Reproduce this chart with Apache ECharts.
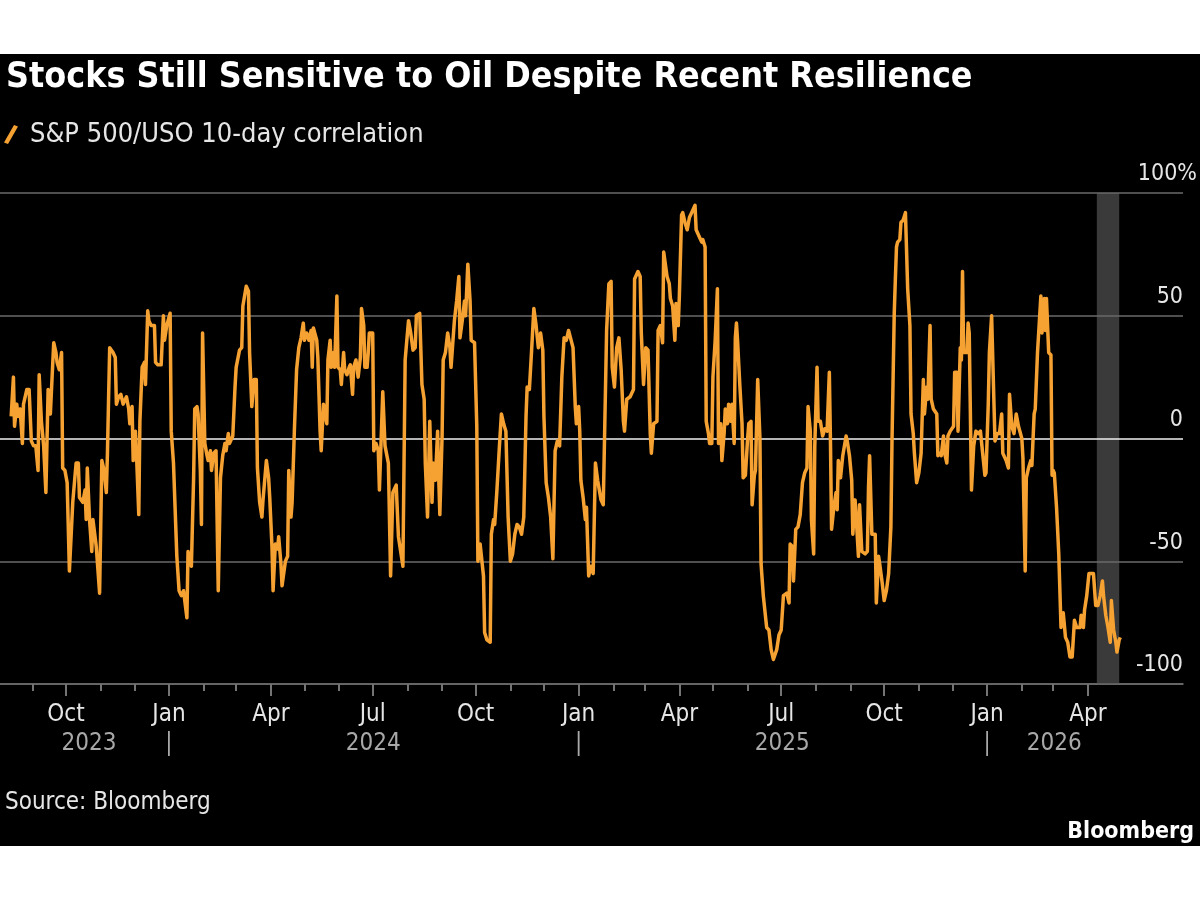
<!DOCTYPE html>
<html>
<head>
<meta charset="utf-8">
<script src="https://cdn.jsdelivr.net/npm/echarts@6/dist/echarts.min.js"></script>
<style>
  html, body { margin: 0; padding: 0; background: #fff; }
  #bg { position: absolute; left: 0; top: 54px; width: 1200px; height: 792px; background: #000; }
  #chart { position: absolute; left: 0; top: 0; width: 1200px; height: 900px; }
</style>
</head>
<body>
<div id="bg"></div>
<div id="chart"></div>
<script>
// ---- Data ----
// Dates are given as days since 2023-08-01.
const daysSinceStart = [
  12,14,15,17,18,20,22,23,26,28,30,32,34,36,37,39,41,43,45,47,48,50,52,53,55,57,58,60,62,64,65,67,70,72,73,76,78,79,80,82,84,85,88,91,93,95,97,98,99,100,
  103,105,106,108,110,112,115,117,118,120,121,123,124,126,127,129,131,132,134,135,137,140,141,143,146,148,149,151,154,155,157,160,162,164,166,169,170,172,173,175,176,178,179,181,182,183,185,187,188,190,
  191,193,195,197,199,201,203,204,206,207,210,212,213,216,218,219,222,224,225,227,229,231,232,234,236,237,240,242,243,245,246,248,250,251,253,254,257,259,260,262,263,265,267,269,271,273,274,276,278,280,
  281,282,285,286,288,289,291,292,294,295,297,298,300,301,303,304,306,307,309,310,312,314,315,317,318,320,322,324,325,327,328,330,331,332,335,336,338,340,341,344,346,349,351,353,356,358,360,362,364,367,
  369,371,373,374,377,379,381,382,384,386,388,389,391,393,394,395,397,398,400,402,404,405,408,410,412,413,415,417,418,420,422,423,426,428,429,431,434,435,437,440,441,443,444,446,448,450,452,454,456,458,
  460,462,464,466,468,470,472,473,475,477,479,481,483,485,487,488,490,492,494,496,498,500,502,504,506,508,510,514,516,517,519,520,521,523,525,526,528,530,532,534,536,539,541,542,544,546,548,549,551,553,
  555,557,559,560,562,565,568,569,572,574,575,577,579,581,583,584,586,589,590,592,594,595,598,600,601,603,605,606,608,609,611,612,614,616,618,621,623,624,627,629,630,632,633,635,636,638,639,641,643,644,
  646,647,649,650,652,653,655,656,658,659,660,661,663,665,666,668,670,671,673,674,676,677,679,681,682,684,687,689,691,693,696,698,700,702,705,707,708,710,711,713,715,717,719,721,723,724,726,727,729,730,
  732,733,735,737,739,741,743,744,745,747,749,750,751,753,755,758,759,761,763,764,766,767,769,770,772,775,777,778,779,781,784,785,787,788,790,792,794,796,798,799,801,802,803,804,806,807,809,811,812,813,
  815,816,818,819,821,823,825,827,828,830,831,833,834,836,839,840,842,843,845,846,848,849,851,854,855,857,858,860,861,862,863,866,867,868,870,872,874,876,878,880,882,883,885,886,888,890,891,893,895,897,
  898,901,903,904,906,908,910,912,913,915,916,918,919,921,923,924,926,927,929,932,933,935,936,937,939,941,942,943,944,946,948,950,952,954,956,958,960,962,964,967,968,970,971,973,975,977,979,981,983,985,
  987,988,990,992,994,995,997,999,1000,1002,1003
];
const correlation = [
  9,25,5,14,9,12,-2,14,20,20,-1,-3,-3,-13,26,7,-3,-22,20,10,10,39,35,31,28,35,-12,-13,-18,-54,-54,-26,-10,-10,-24,-26,-21,-33,-12,-33,-46,-33,-44,-63,-9,-13,-22,-6,16,37,
  35,33,14,17,18,14,17,12,6,13,-9,3,-7,-31,7,29,31,22,52,48,46,46,31,30,30,50,40,46,51,3,-10,-48,-62,-64,-62,-73,-46,-51,-52,-16,12,13,10,-13,-35,43,-2,-7,-9,-5,
  -13,-6,-5,-62,-16,-7,-2,-5,2,-2,1,21,29,36,37,54,62,60,35,13,24,24,-12,-26,-32,-25,-9,-16,-24,-44,-62,-43,-45,-40,-51,-60,-50,-48,-13,-32,-26,3,28,37,41,47,40,43,40,44,
  29,45,40,33,3,-5,14,11,6,32,40,29,35,29,58,29,28,22,35,28,26,29,30,18,29,32,25,33,53,46,29,29,35,43,43,-5,-2,-5,-21,19,-3,-10,-56,-22,-19,-40,-46,-52,32,48,
  43,36,37,50,51,22,16,-10,-32,7,-26,-10,-17,3,-16,-31,1,32,35,43,37,29,48,56,66,41,48,56,50,71,56,40,39,5,-50,-43,-56,-79,-82,-83,-39,-33,-35,-21,-5,10,6,3,-32,-50,
  -47,-39,-35,-36,-39,-32,9,21,20,36,53,46,37,43,36,9,-18,-24,-32,-49,-5,-1,-3,25,41,40,44,37,13,6,13,3,-17,-24,-33,-28,-56,-52,-55,-10,-17,-25,-27,-27,44,63,64,29,21,37,
  41,28,7,3,16,17,20,65,68,66,43,22,37,36,2,-6,6,7,44,46,39,76,66,63,57,54,40,55,46,58,91,92,88,85,90,93,95,85,82,80,81,78,7,2,-2,-2,25,40,61,-2,
  6,-9,2,12,6,14,7,14,-2,41,47,40,22,6,-16,-15,0,6,7,-27,-15,-13,24,0,-51,-64,-77,-78,-86,-90,-86,-80,-78,-64,-63,-67,-43,-44,-58,-37,-36,-31,-18,-14,-12,13,3,-33,-47,-3,
  29,7,7,1,4,3,27,-1,-37,-28,-22,-29,-9,-16,-7,1,-1,-7,-17,-39,-25,-32,-48,-27,-46,-47,-46,-20,-7,-39,-39,-67,-48,-51,-58,-66,-62,-55,-36,-1,51,65,78,80,81,88,89,92,92,61,
  46,10,2,-6,-18,-14,-6,24,10,21,16,46,16,12,10,-7,-6,-7,1,-6,-10,1,3,5,27,27,3,37,32,68,35,35,47,43,-21,-3,3,2,3,-6,-15,-14,14,35,50,16,-1,2,2,10,
  -6,-9,-12,18,5,2,10,5,5,0,-8,-54,-16,-12,-9,-11,10,12,35,58,43,57,44,57,35,34,-15,-13,-14,-28,-47,-77,-71,-81,-83,-89,-89,-74,-77,-77,-72,-77,-70,-64,-55,-55,-55,-68,-68,-64,
  -58,-64,-72,-77,-83,-66,-78,-83,-87,-82,-81
];
const seriesName = 'S&P 500/USO 10-day correlation';
const yTicks = [-100, -50, 0, 50, 100];
const quarterNames = { 0: 'Jan', 3: 'Apr', 6: 'Jul', 9: 'Oct' };
const yearNames = ['2023', '2024', '2025', '2026'];
const highlightStart = '2026-04-09';
const highlightEnd = '2026-04-29';
const titleText = 'Stocks Still Sensitive to Oil Despite Recent Resilience';
const sourceText = 'Source: Bloomberg';

// ---- Build ----
const DAY = 86400000;
const ORIGIN = Date.UTC(2023, 7, 1);
const seriesData = daysSinceStart.map((d, i) => [ORIGIN + d * DAY, correlation[i]]);

const axisMin = Date.UTC(2023, 7, 3);
const axisMax = Date.UTC(2026, 5, 25);

// monthly ticks Sep 2023 .. Apr 2026
const monthTicks = [];
for (let y = 2023, m = 8; y < 2026 || (y === 2026 && m <= 3); ) {
  monthTicks.push(Date.UTC(y, m, 1));
  m++; if (m > 11) { m = 0; y++; }
}
const quarterTicks = monthTicks.filter(t => new Date(t).getUTCMonth() % 3 === 0);

// year labels centred on the data within each year, separators at Jan 1
const yearLabelMap = {};
yearNames.forEach(yn => {
  const y = +yn;
  const inYear = seriesData.filter(p => new Date(p[0]).getUTCFullYear() === y);
  const mid = Math.round((inYear[0][0] + inYear[inYear.length - 1][0]) / 2);
  yearLabelMap[mid] = yn;
  if (y > 2023) yearLabelMap[Date.UTC(y, 0, 1)] = '|';
});
const yearAxisValues = Object.keys(yearLabelMap).map(Number).sort((a, b) => a - b);

const FONT = "'DejaVu Sans Condensed', 'DejaVu Sans', sans-serif";
const LINE_COLOR = '#f6a233';

const chart = echarts.init(document.getElementById('chart'), null, { renderer: 'canvas' });
chart.setOption({
  backgroundColor: 'transparent',
  animation: false,
  textStyle: { fontFamily: FONT },
  title: [
    { text: titleText, left: 1, top: 55,
      textStyle: { color: '#ffffff', fontSize: 35.5, fontWeight: 'bold', fontFamily: FONT } },
    { text: sourceText, left: 0, top: 786,
      textStyle: { color: '#e6e6e6', fontSize: 24, fontWeight: 'normal', fontFamily: FONT } },
    { text: 'Bloomberg', right: 1, top: 816,
      textStyle: { color: '#ffffff', fontSize: 23, fontWeight: 'bold', fontFamily: FONT } }
  ],
  legend: {
    data: [seriesName], left: -1, top: 116,
    icon: 'path://M10,0 L14,1.5 L4,19 L0,17.5 Z',
    itemWidth: 28, itemHeight: 19,
    textStyle: { color: '#e6e6e6', fontSize: 27, fontFamily: FONT },
    selectedMode: false
  },
  grid: { left: 0, right: 17, top: 193, bottom: 216, containLabel: false },
  xAxis: [
    { type: 'value', min: axisMin, max: axisMax, position: 'bottom',
      axisLine: { show: true, onZero: false, lineStyle: { color: '#777', width: 1.5 } },
      axisTick: { show: true, customValues: monthTicks, length: 7, lineStyle: { color: '#9a9a9a', width: 1.5 } },
      axisLabel: { show: true, customValues: quarterTicks, margin: 19, color: '#e6e6e6', fontSize: 24, fontFamily: FONT,
        formatter: v => quarterNames[new Date(v).getUTCMonth()] || '' },
      splitLine: { show: false } },
    { type: 'value', min: axisMin, max: axisMax, position: 'bottom',
      axisLine: { show: false, onZero: false },
      axisTick: { show: true, customValues: quarterTicks, length: 12, lineStyle: { color: '#9a9a9a', width: 1.5 } },
      axisLabel: { show: false }, splitLine: { show: false } },
    { type: 'value', min: axisMin, max: axisMax, position: 'bottom',
      axisLine: { show: false, onZero: false }, axisTick: { show: false }, splitLine: { show: false },
      axisLabel: { show: true, customValues: yearAxisValues, margin: 48, color: '#a8a8a8', fontSize: 24, fontFamily: FONT,
        formatter: v => yearLabelMap[v] || '' } }
  ],
  yAxis: [
    { type: 'value', min: yTicks[0], max: yTicks[yTicks.length - 1], interval: 50, position: 'right', z: 1.5,
      axisLine: { show: false }, axisTick: { show: false },
      splitLine: { show: true, lineStyle: { color: ['#6a6a6a', '#6a6a6a', '#f0f0f0', '#6a6a6a', '#6a6a6a'], width: 1.5 } },
      axisLabel: { inside: true, margin: 0, verticalAlign: 'bottom', padding: [0, 0, 7, 0],
        color: '#e6e6e6', fontSize: 23, fontFamily: FONT,
        formatter: v => (v === 100 ? '' : String(v)) } },
    { type: 'value', min: yTicks[0], max: yTicks[yTicks.length - 1], position: 'right',
      axisLine: { show: false }, axisTick: { show: false }, splitLine: { show: false },
      axisLabel: { inside: true, customValues: [100], margin: -14, verticalAlign: 'bottom', padding: [0, 0, 7, 0],
        color: '#e6e6e6', fontSize: 23, fontFamily: FONT, formatter: () => '100%' } }
  ],
  series: [
    { name: 'highlight', type: 'line', data: [], xAxisIndex: 0, yAxisIndex: 0, silent: true,
      markArea: { silent: true, itemStyle: { color: '#3a3a3a' },
        data: [[{ xAxis: Date.parse(highlightStart) }, { xAxis: Date.parse(highlightEnd) }]] } },
    { name: seriesName, type: 'line', data: seriesData, xAxisIndex: 0, yAxisIndex: 0,
      showSymbol: false, symbol: 'none', z: 3,
      lineStyle: { color: LINE_COLOR, width: 3.5, join: 'round' }, itemStyle: { color: LINE_COLOR } }
  ]
});
</script>
</body>
</html>
